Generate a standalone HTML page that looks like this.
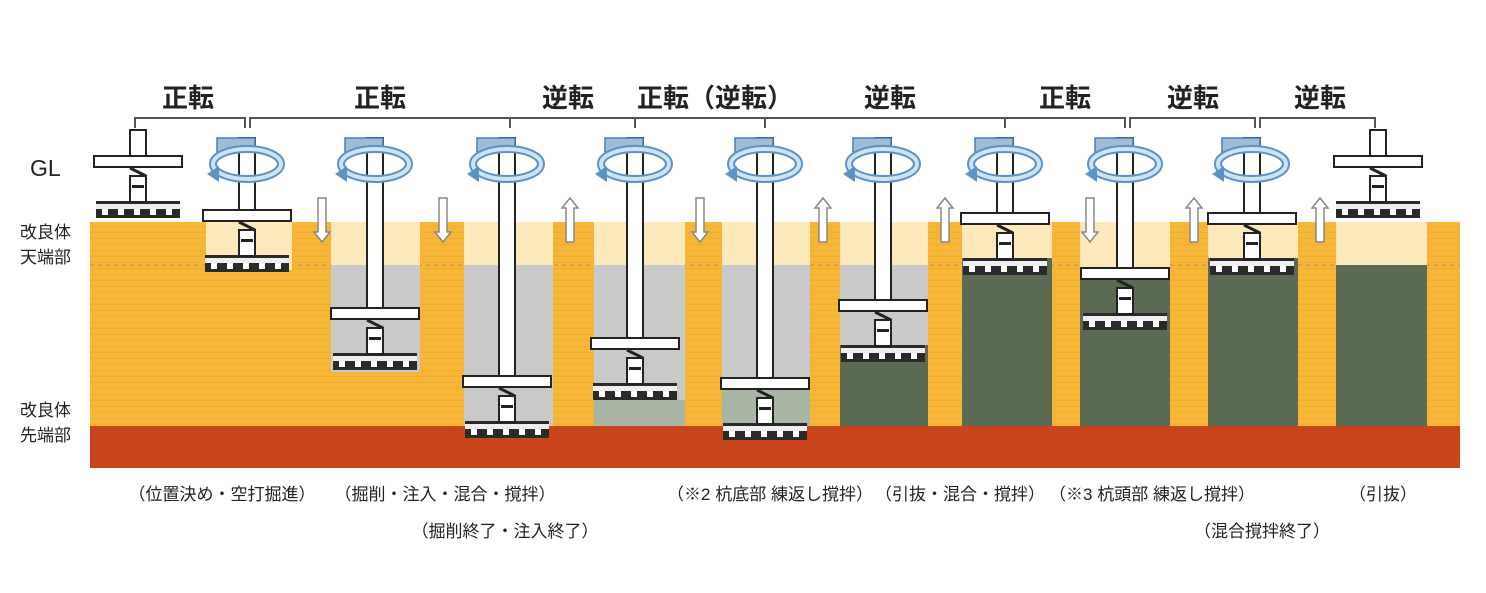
<!DOCTYPE html>
<html><head><meta charset="utf-8"><style>
body{margin:0;background:#fff;}
svg{display:block;font-family:"Liberation Sans","Noto Sans CJK JP",sans-serif;}
</style></head><body>
<svg width="1486" height="593" viewBox="0 0 1486 593" xmlns="http://www.w3.org/2000/svg">
<defs>
<pattern id="str" width="10" height="6" patternUnits="userSpaceOnUse">
<rect width="10" height="6" fill="#f6b637"/><rect y="4" width="10" height="1" fill="#f2ad2e"/>
</pattern>
<g id="bit">
<rect x="-42" y="-17" width="84" height="17" fill="#2a2a2a"/>
<rect x="-42" y="-14" width="84" height="5" fill="#eee"/>
<rect x="-36" y="-9" width="6" height="6" fill="#fff"/><rect x="-20" y="-9" width="6" height="6" fill="#fff"/>
<rect x="-4" y="-9" width="6" height="6" fill="#fff"/><rect x="12" y="-9" width="6" height="6" fill="#fff"/><rect x="28" y="-9" width="6" height="6" fill="#fff"/>
<rect x="-8" y="-42" width="16" height="26" fill="#fff" stroke="#222" stroke-width="2"/>
<rect x="-6" y="-33" width="12" height="3" fill="#222"/>
<path d="M-8,-50 L8,-42" stroke="#222" stroke-width="3"/>
<rect x="-44" y="-62" width="88" height="11" fill="#fff" stroke="#222" stroke-width="2"/>
</g>
<g id="rot">
<rect x="-30" y="0" width="38" height="14" fill="#9dbdd8" stroke="#4b7fb0" stroke-width="1.5"/>
<ellipse cx="0" cy="26" rx="34" ry="15" fill="none" stroke="#5b93c6" stroke-width="8"/>
<ellipse cx="0" cy="26" rx="34" ry="15" fill="none" stroke="#cfe3f3" stroke-width="4"/>
<path d="M-40,36 l12,-8 l0,16 z" fill="#5b93c6"/>
</g>
</defs>
<rect x="90" y="222" width="1370" height="204" fill="url(#str)"/>
<line x1="90" y1="265" x2="1460" y2="265" stroke="#d9a24a" stroke-width="2" stroke-dasharray="4,4"/>
<rect x="90" y="426" width="1370" height="42" fill="#c8441a"/>
<rect x="206" y="222" width="86" height="48" fill="#fde8bc"/>
<rect x="331" y="222" width="89" height="43" fill="#fde8bc"/><rect x="331" y="265" width="89" height="107" fill="#c9c9c9"/>
<rect x="464" y="222" width="89" height="43" fill="#fde8bc"/><rect x="464" y="265" width="89" height="161" fill="#c9c9c9"/>
<rect x="594" y="222" width="91" height="43" fill="#fde8bc"/><rect x="594" y="265" width="91" height="135" fill="#c9c9c9"/><rect x="594" y="400" width="91" height="26" fill="#a9b5a5"/>
<rect x="722" y="222" width="88" height="43" fill="#fde8bc"/><rect x="722" y="265" width="88" height="120" fill="#c9c9c9"/><rect x="722" y="385" width="88" height="41" fill="#a9b5a5"/>
<rect x="840" y="222" width="88" height="43" fill="#fde8bc"/><rect x="840" y="265" width="88" height="80" fill="#c9c9c9"/><rect x="840" y="345" width="88" height="81" fill="#5b6b53"/>
<rect x="962" y="222" width="90" height="36" fill="#fde8bc"/><rect x="962" y="258" width="90" height="168" fill="#5b6b53"/>
<rect x="1080" y="222" width="90" height="48" fill="#fde8bc"/><rect x="1080" y="270" width="90" height="156" fill="#5b6b53"/>
<rect x="1208" y="222" width="90" height="36" fill="#fde8bc"/><rect x="1208" y="258" width="90" height="168" fill="#5b6b53"/>
<rect x="1336" y="222" width="91" height="43" fill="#fde8bc"/><rect x="1336" y="265" width="91" height="161" fill="#5b6b53"/>
<g stroke="#555" stroke-width="2" fill="none">
<path d="M135,128 V118 H245 V128"/><path d="M250,128 V118 H1125 V128"/><path d="M1130,128 V118 H1255 V128"/><path d="M1260,128 V118 H1375 V128"/>
<path d="M510,118 V128 M635,118 V128 M765,118 V128 M1005,118 V128"/>
</g>
<g font-size="26" font-weight="bold" fill="#222" text-anchor="middle">
<text x="188" y="107">正転</text><text x="380" y="107">正転</text><text x="568" y="107">逆転</text>
<text x="715" y="107">正転（逆転）</text><text x="890" y="107">逆転</text><text x="1065" y="107">正転</text>
<text x="1193" y="107">逆転</text><text x="1320" y="107">逆転</text>
</g>
<g fill="#fff" stroke="#222" stroke-width="2">
<rect x="239" y="138" width="16" height="75"/>
<rect x="367" y="138" width="16" height="173"/>
<rect x="499" y="138" width="16" height="239"/>
<rect x="627" y="138" width="16" height="201"/>
<rect x="757" y="138" width="16" height="241"/>
<rect x="875" y="138" width="16" height="163"/>
<rect x="997" y="138" width="16" height="76"/>
<rect x="1117" y="138" width="16" height="131"/>
<rect x="1244" y="138" width="16" height="76"/>
<rect x="130" y="130" width="16" height="30"/>
<rect x="1370" y="130" width="16" height="30"/>
</g>
<use href="#rot" x="247" y="138"/><use href="#rot" x="375" y="138"/><use href="#rot" x="507" y="138"/>
<use href="#rot" x="635" y="138"/><use href="#rot" x="765" y="138"/><use href="#rot" x="883" y="138"/>
<use href="#rot" x="1005" y="138"/><use href="#rot" x="1125" y="138"/><use href="#rot" x="1252" y="138"/>
<use href="#bit" x="138" y="218"/><use href="#bit" x="247" y="272"/><use href="#bit" x="375" y="370"/>
<use href="#bit" x="507" y="438"/><use href="#bit" x="635" y="400"/><use href="#bit" x="765" y="440"/>
<use href="#bit" x="883" y="362"/><use href="#bit" x="1005" y="275"/><use href="#bit" x="1125" y="330"/>
<use href="#bit" x="1252" y="275"/><use href="#bit" x="1378" y="218"/>
<g fill="#fff" stroke="#888" stroke-width="1.5">
<path d="M318,198 h8 v34 h4 l-8,10 l-8,-10 h4 z"/>
<path d="M439,198 h8 v34 h4 l-8,10 l-8,-10 h4 z"/>
<path d="M696,198 h8 v34 h4 l-8,10 l-8,-10 h4 z"/>
<path d="M1086,198 h8 v34 h4 l-8,10 l-8,-10 h4 z"/>
<path d="M566,242 h8 v-34 h4 l-8,-10 l-8,10 h4 z"/>
<path d="M819,242 h8 v-34 h4 l-8,-10 l-8,10 h4 z"/>
<path d="M941,242 h8 v-34 h4 l-8,-10 l-8,10 h4 z"/>
<path d="M1190,242 h8 v-34 h4 l-8,-10 l-8,10 h4 z"/>
<path d="M1316,242 h8 v-34 h4 l-8,-10 l-8,10 h4 z"/>
</g>
<g fill="#222" font-size="17">
<text x="30" y="176" font-size="23">GL</text>
<text x="20" y="238">改良体</text><text x="20" y="263">天端部</text>
<text x="20" y="416">改良体</text><text x="20" y="441">先端部</text>
</g>
<g fill="#222" font-size="17" text-anchor="middle">
<text x="222" y="500">（位置決め・空打掘進）</text>
<text x="445" y="500">（掘削・注入・混合・撹拌）</text>
<text x="505" y="537">（掘削終了・注入終了）</text>
<text x="770" y="500">（※2 杭底部 練返し撹拌）</text>
<text x="960" y="500">（引抜・混合・撹拌）</text>
<text x="1152" y="500">（※3 杭頭部 練返し撹拌）</text>
<text x="1262" y="537">（混合撹拌終了）</text>
<text x="1383" y="500">（引抜）</text>
</g>
</svg>
</body></html>
